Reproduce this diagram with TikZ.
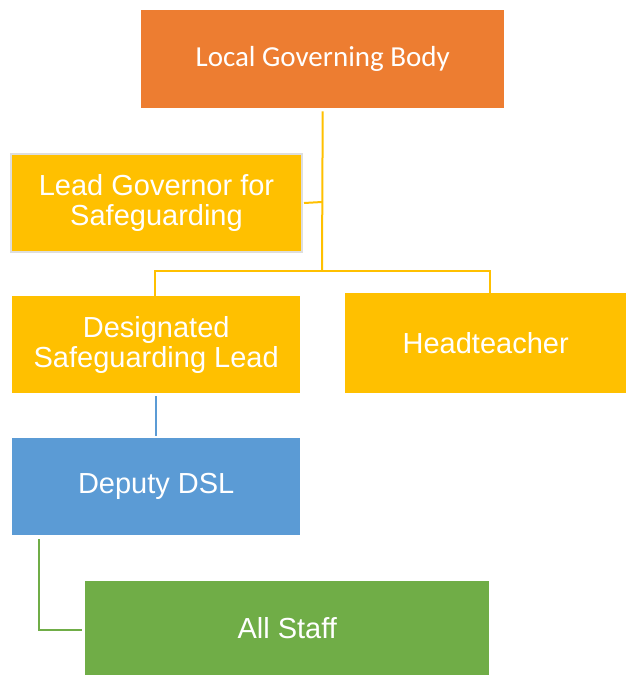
\documentclass[tikz,border=0pt]{standalone}
\usepackage{fontspec}
\setmainfont{Liberation Sans}
\newfontfamily\calib{Carlito}
\definecolor{orgc}{HTML}{ED7D31}
\definecolor{goldc}{HTML}{FFC000}
\definecolor{bluec}{HTML}{5B9BD5}
\definecolor{greenc}{HTML}{70AD47}
\definecolor{greyb}{HTML}{DEDEDE}
\begin{document}
\begin{tikzpicture}[x=1pt,y=-1pt,
  box/.style={anchor=north west,inner sep=0pt,text=white,align=center,
    font=\fontsize{29}{30}\selectfont},
  link/.style={line width=2pt}]
\useasboundingbox (0,0) rectangle (626,675);
\node[box,fill=orgc,minimum width=363pt,minimum height=98pt,font=\calib\fontsize{29}{30}\selectfont] (lgb) at (141,10) {Local Governing Body};
\node[box,fill=goldc,draw=greyb,line width=2pt,minimum width=291pt,minimum height=98pt] (lead) at (10,153) {Lead Governor for\\Safeguarding};
\node[box,fill=goldc,minimum width=288pt,minimum height=97pt] (dsl) at (12,296) {Designated\\Safeguarding Lead};
\node[box,fill=goldc,minimum width=281pt,minimum height=100pt] (head) at (345,293) {Headteacher};
\node[box,fill=bluec,minimum width=288pt,minimum height=97pt] (dep) at (12,438) {Deputy DSL};
\node[box,fill=greenc,minimum width=404pt,minimum height=94pt] (all) at (85,581) {All Staff};
\coordinate (j) at (322,271);
\draw[link,goldc] (lgb.south) ++(0,3) -- (j);
\draw[link,goldc] (lead.east) ++(1,0) -- (322,202);
\draw[link,goldc] (dsl.north -| 155,0) -- (155,271) -- (490,271) -- (head.north -| 490,0);
\draw[link,bluec] (156,396) -- (156,436);
\draw[link,greenc] (39,539) -- (39,630) -- (82,630);
\end{tikzpicture}
\end{document}
